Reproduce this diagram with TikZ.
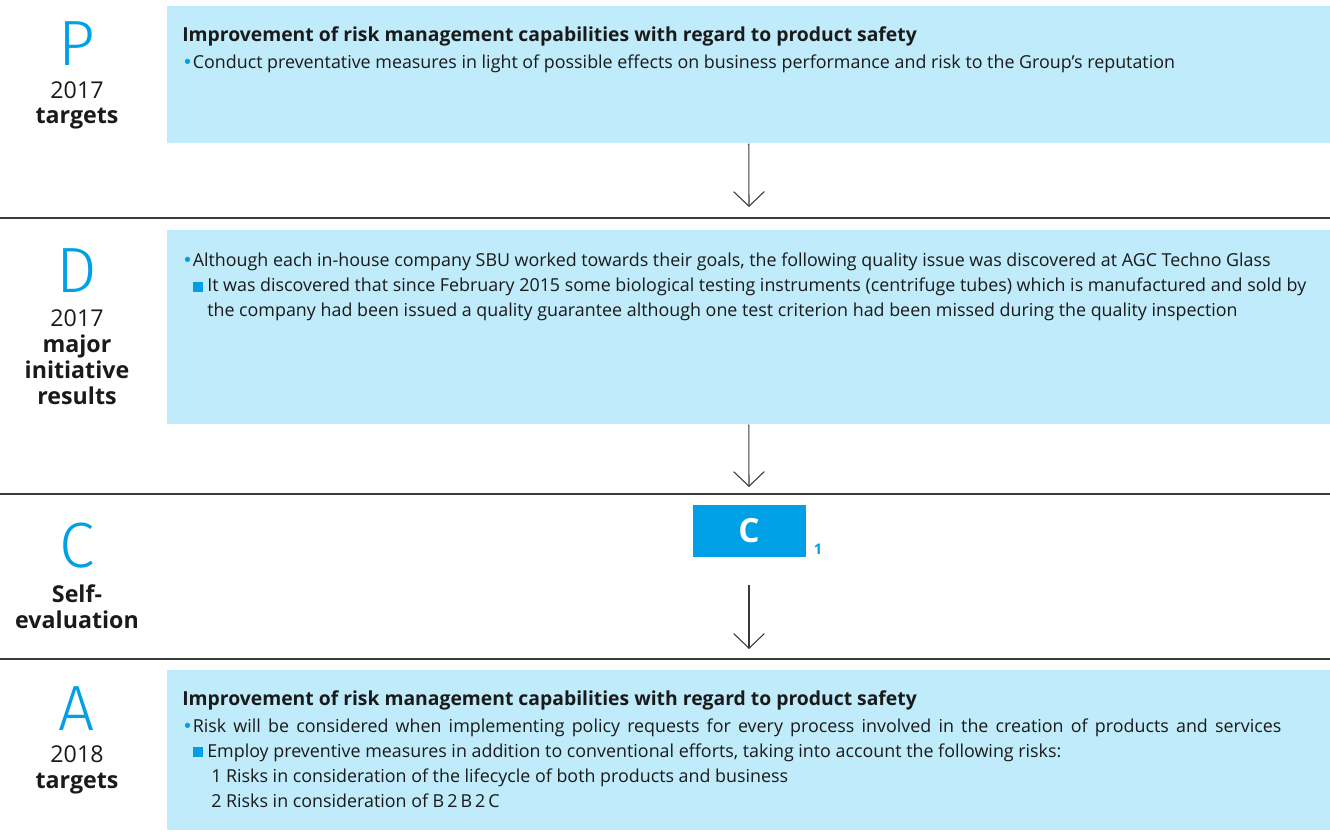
\documentclass[tikz,border=0pt]{standalone}
\usepackage{fontspec}
\setmainfont{Open Sans}
\newfontfamily\thinfont{Fira Sans}[UprightFont=* Light]
\newfontfamily\symfont{DejaVu Sans}
\usepackage{xcolor}
\usetikzlibrary{arrows.meta,positioning}
\definecolor{pale}{HTML}{BFEBFA}
\definecolor{brand}{HTML}{00A0E6}
\definecolor{ink}{HTML}{1A1A1A}
\definecolor{rule}{HTML}{3A3A3A}
\newcommand{\dotmark}{{\symfont\textcolor{brand}{•}}}
\newcommand{\sqmark}{\textcolor{brand}{\rule{7.5pt}{7.5pt}}\hspace{3pt}}

\begin{document}
\begin{tikzpicture}[x=0.75pt,y=-0.75pt,
  panel/.style={fill=pale,draw=none,inner sep=0pt,anchor=north west},
  body/.style={font=\fontsize{13.4}{18.75}\selectfont,text=ink,inner sep=0pt,anchor=base west,align=left},
  head/.style={body,font=\fontsize{14.5}{18.75}\selectfont\bfseries},
  letter/.style={font=\thinfont\fontsize{48}{48}\selectfont,text=brand,inner sep=0pt,anchor=base},
  side/.style={font=\fontsize{17.4}{19.3}\selectfont,text=ink,inner sep=0pt,anchor=base,align=center},
  flow/.style={draw=rule,line width=0.8pt,-{Straight Barb[length=11pt,width=23pt,line width=0.8pt]}},
  sep/.style={draw=rule,line width=1.1pt}]
\useasboundingbox (0,0) rectangle (1330,837);

% separator lines
\draw[sep] (0,218) -- (1330,218);
\draw[sep] (0,494) -- (1330,494);
\draw[sep] (0,659) -- (1330,659);

% panels
\node[panel,minimum width=1163*0.75pt,minimum height=137*0.75pt] (pbox) at (167,6) {};
\node[panel,minimum width=1163*0.75pt,minimum height=194*0.75pt] (dbox) at (167,230) {};
\node[panel,minimum width=1163*0.75pt,minimum height=160*0.75pt] (abox) at (167,670) {};
\node[fill=brand,text=white,font=\fontsize{25}{25}\selectfont\bfseries,
  minimum width=113*0.75pt,minimum height=52*0.75pt,inner sep=0pt] (cbox) at (749,531) {\raisebox{-2.4pt}{C}};
\node[font=\fontsize{11}{11}\selectfont\bfseries,text=brand,inner sep=0pt,anchor=base] (cnote) at (818,554) {1};

% left column (base = last line)
\node[letter] (plet) at (77,66) {P};
\node[side] (plab) at (77,124) {2017\\\textbf{targets}};
\node[letter] (dlet) at (77,293) {D};
\node[side] (dlab) at (77,404) {2017\\\textbf{major}\\\textbf{initiative}\\\textbf{results}};
\node[letter] (clet) at (77,567) {C};
\node[side] (clab) at (77,628) {\textbf{Self-}\\\textbf{evaluation}};
\node[letter] (alet) at (77,730) {A};
\node[side] (alab) at (77,788) {2018\\\textbf{targets}};

% P texts
\node[head] (ptitle) at (182,42) {Improvement of risk management capabilities with regard to product safety};
\node[body] (pitem) at (182,69) {\dotmark Conduct preventative measures in light of possible effects on business performance and risk to the Group's reputation};

% D texts
\node[body] (ditem) at (182,267) {\dotmark Although each in-house company SBU worked towards their goals, the following quality issue was discovered at AGC Techno Glass};
\node[body] (dsub) at (207,317) {\llap{\sqmark}It was discovered that since February 2015 some biological testing instruments (centrifuge tubes) which is manufactured and sold by\\the company had been issued a quality guarantee although one test criterion had been missed during the quality inspection};

% A texts
\node[head] (atitle) at (182,705) {Improvement of risk management capabilities with regard to product safety};
\node[body] (aitem) at (182,732) {\spaceskip=5.4pt\dotmark Risk will be considered when implementing policy requests for every process involved in the creation of products and services};
\node[body] (asub) at (207,757) {\llap{\sqmark}Employ preventive measures in addition to conventional efforts, taking into account the following risks:};
\node[body] (arisk1) at (211,782) {1 Risks in consideration of the lifecycle of both products and business};
\node[body] (arisk2) at (211,807) {2 Risks in consideration of B\,2\,B\,2\,C};

% arrows
\coordinate (ptip) at (749,207);
\coordinate (dtip) at (749,487);
\coordinate (cstart) at (749,585);
\coordinate (ctip) at (749,649);
\draw[flow] (pbox.south) -- (ptip);
\draw[flow] (dbox.south) -- (dtip);
\draw[flow] (cstart) -- (ctip);
\end{tikzpicture}
\end{document}
